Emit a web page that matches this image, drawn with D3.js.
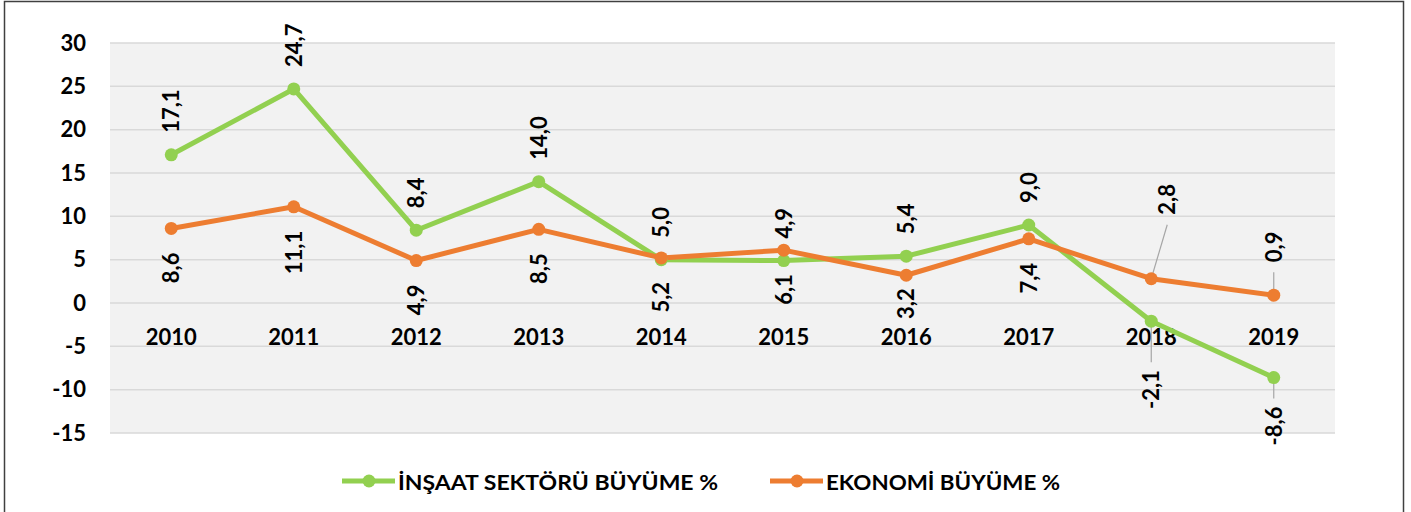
<!DOCTYPE html>
<html>
<head>
<meta charset="utf-8">
<script src="https://cdn.jsdelivr.net/npm/d3@7"></script>
<style>
  body { margin: 0; background: #fff; }
  text { font-family: Lato, "Open Sans", sans-serif; font-weight: 700; fill: #000; }
</style>
</head>
<body>
<svg width="1411" height="512"></svg>
<script>
var years = ["2010", "2011", "2012", "2013", "2014", "2015", "2016", "2017", "2018", "2019"];
var insaat = [17.1, 24.7, 8.4, 14.0, 5.0, 4.9, 5.4, 9.0, -2.1, -8.6];
var ekonomi = [8.6, 11.1, 4.9, 8.5, 5.2, 6.1, 3.2, 7.4, 2.8, 0.9];
var yTicks = [30, 25, 20, 15, 10, 5, 0, -5, -10, -15];
var seriesNames = ["İNŞAAT SEKTÖRÜ BÜYÜME %", "EKONOMİ BÜYÜME %"];

// label placement: gap from point (negative = above), dx, leader line
var insaatLabelPos = years.map(y => ({gap: -22, dx: 0, leader: false}));
insaatLabelPos[8] = {gap: 49, dx: 0, leader: true};
insaatLabelPos[9] = {gap: 29, dx: 0, leader: true};
var ekonomiLabelPos = years.map(y => ({gap: 24, dx: 0, leader: false}));
ekonomiLabelPos[6] = {gap: 13, dx: 0, leader: false};
ekonomiLabelPos[8] = {gap: -64, dx: 16, leader: true};
ekonomiLabelPos[9] = {gap: -33, dx: 0, leader: true};

var svg = d3.select("svg");
var plotLeft = 110, plotRight = 1335, plotTop = 43, plotBottom = 433;

svg.append("rect")
  .attr("x", 4.5).attr("y", 1.5)
  .attr("width", 1399).attr("height", 512)
  .attr("fill", "none")
  .attr("stroke", "#404040")
  .attr("stroke-width", 1.5);

var x = d3.scaleBand().domain(years).range([plotLeft, plotRight]);
var y = d3.scaleLinear().domain([-15, 30]).range([plotBottom, plotTop]);

svg.append("rect")
  .attr("x", plotLeft).attr("y", plotTop)
  .attr("width", plotRight - plotLeft).attr("height", plotBottom - plotTop)
  .attr("fill", "#f2f2f2");

svg.append("g")
  .selectAll("line")
  .data(yTicks)
  .join("line")
  .attr("x1", plotLeft).attr("x2", plotRight)
  .attr("y1", d => y(d)).attr("y2", d => y(d))
  .attr("stroke", "#d9d9d9")
  .attr("stroke-width", 1.5);

var yAxis = svg.append("g")
  .attr("transform", `translate(${plotLeft}, 0)`)
  .call(d3.axisLeft(y).tickValues(yTicks).tickSize(0).tickPadding(24).tickFormat(d => String(d)));
yAxis.select(".domain").remove();
yAxis.selectAll("text").attr("font-size", 22).attr("font-family", null);

var xAxis = svg.append("g")
  .attr("transform", `translate(0, ${y(0)})`)
  .call(d3.axisBottom(x).tickSize(0).tickPadding(26));
xAxis.select(".domain").remove();
xAxis.selectAll("text").attr("font-size", 22).attr("font-family", null);

var fmt = d => d.toFixed(1).replace(".", ",");

function drawSeries(values, color, labelPos) {
  var pts = values.map((v, i) => ({x: x(years[i]) + x.bandwidth() / 2, y: y(v), v: v, p: labelPos[i]}));

  var line = d3.line().x(d => d.x).y(d => d.y);
  svg.append("path")
    .attr("d", line(pts))
    .attr("fill", "none")
    .attr("stroke", color)
    .attr("stroke-width", 5)
    .attr("stroke-linejoin", "round");

  return pts;
}

function drawMarkers(pts, color) {
  svg.append("g")
    .selectAll("circle")
    .data(pts)
    .join("circle")
    .attr("cx", d => d.x).attr("cy", d => d.y)
    .attr("r", 6.5)
    .attr("fill", color);
}

function drawLabels(pts) {
  var g = svg.append("g");
  pts.forEach(d => {
    var lx = d.x + d.p.dx, ly = d.y + d.p.gap;
    if (d.p.leader) {
      var endY = d.p.gap > 0 ? ly - 8 : ly + 10;
      g.append("line")
        .attr("x1", d.x).attr("y1", d.y)
        .attr("x2", lx).attr("y2", endY)
        .attr("stroke", "#a6a6a6")
        .attr("stroke-width", 1.2);
    }
    g.append("text")
      .attr("transform", `translate(${lx}, ${ly}) rotate(-90)`)
      .attr("text-anchor", d.p.gap < 0 ? "start" : "end")
      .attr("dy", "0.36em")
      .attr("font-size", 22)
      .text(fmt(d.v));
  });
}

var green = "#92d050", orange = "#ed7d31";
var gPts = drawSeries(insaat, green, insaatLabelPos);
var oPts = drawSeries(ekonomi, orange, ekonomiLabelPos);
drawLabels(gPts);
drawLabels(oPts);
drawMarkers(gPts, green);
drawMarkers(oPts, orange);

// legend
var legend = [
  {name: seriesNames[0], color: green, x: 342, w: 320},
  {name: seriesNames[1], color: orange, x: 770, w: 234}
];
legend.forEach(l => {
  var g = svg.append("g").attr("transform", `translate(${l.x}, 481)`);
  g.append("line").attr("x1", 0).attr("x2", 53).attr("y1", 0).attr("y2", 0)
    .attr("stroke", l.color).attr("stroke-width", 5);
  g.append("circle").attr("cx", 27).attr("cy", 0).attr("r", 6.5).attr("fill", l.color);
  g.append("text")
    .attr("x", 56).attr("y", 9)
    .attr("font-size", 21)
    .attr("textLength", l.w)
    .attr("lengthAdjust", "spacingAndGlyphs")
    .text(l.name);
});
</script>
</body>
</html>
